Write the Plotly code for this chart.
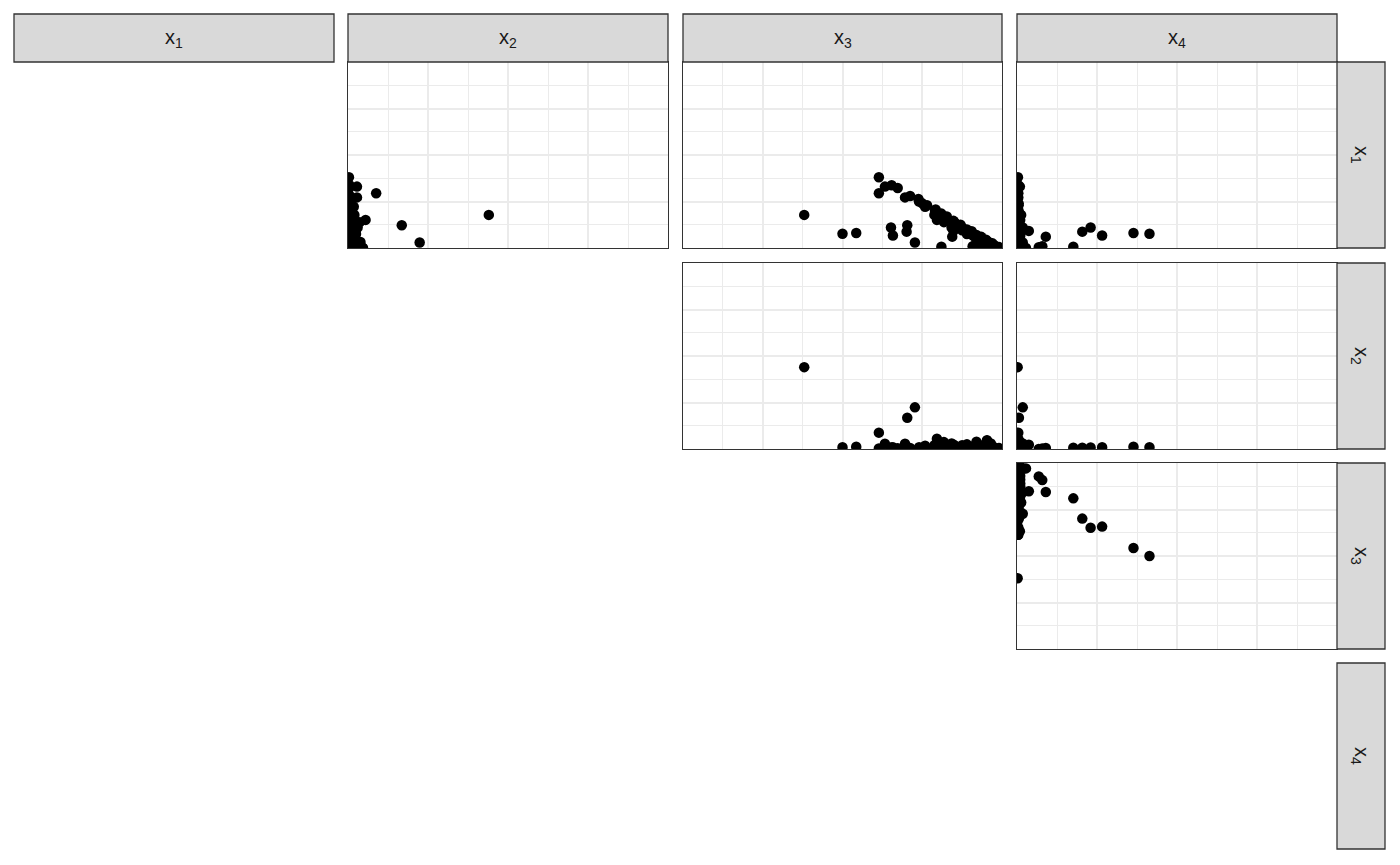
import plotly.graph_objects as go

x1 = [0.38, 0.33, 0.337, 0.323, 0.294, 0.272, 0.28, 0.263, 0.222, 0.207,
      0.178, 0.178, 0.151, 0.139, 0.17, 0.146, 0.122, 0.092, 0.061, 0.077,
      0.081, 0.067, 0.11, 0.088, 0.007, 0.01, 0.004, 0.0, 0.03, 0.11,
      0.032, 0.0,
      0.20, 0.19, 0.185, 0.16, 0.15, 0.14, 0.13, 0.125, 0.12, 0.11,
      0.10, 0.095, 0.09, 0.08, 0.075, 0.07, 0.065, 0.06, 0.055, 0.05,
      0.045, 0.04, 0.035, 0.03, 0.025, 0.02, 0.015, 0.01, 0.005, 0.0,
      0.0, 0.002, 0.005, 0.01, 0.0, 0.02, 0.03, 0.24, 0.25, 0.23]
x2 = [0.003, 0.028, 0.005, 0.004, 0.088, 0.028, 0.006, 0.0, 0.018, 0.0,
      0.44, 0.02, 0.055, 0.037, 0.0, 0.0, 0.168, 0.023, 0.005, 0.009,
      0.012, 0.009, 0.008, 0.007, 0.007, 0.003, 0.0, 0.001, 0.224, 0.03,
      0.039, 0.047,
      0.005, 0.01, 0.0, 0.01, 0.02, 0.005, 0.01, 0.0, 0.02, 0.01,
      0.005, 0.02, 0.0, 0.01, 0.025, 0.005, 0.015, 0.0, 0.02, 0.01,
      0.0, 0.02, 0.005, 0.01, 0.0, 0.02, 0.005, 0.01, 0.0, 0.005,
      0.0, 0.045, 0.03, 0.0, 0.01, 0.0, 0.0, 0.005, 0.01, 0.0]
x3 = [0.614, 0.633, 0.654, 0.673, 0.614, 0.696, 0.712, 0.738, 0.759, 0.792,
      0.38, 0.788, 0.796, 0.818, 0.827, 0.848, 0.703, 0.848, 0.844, 0.5,
      0.543, 0.658, 0.652, 0.701, 0.81, 0.908, 0.928, 0.971, 0.727, 0.842,
      0.92, 0.953,
      0.79, 0.795, 0.81, 0.825, 0.82, 0.85, 0.855, 0.87, 0.85, 0.875,
      0.89, 0.875, 0.905, 0.905, 0.89, 0.92, 0.91, 0.935, 0.92, 0.935,
      0.95, 0.93, 0.955, 0.955, 0.97, 0.955, 0.975, 0.975, 0.99, 0.99,
      1.0, 0.953, 0.965, 0.98, 0.97, 0.97, 0.96, 0.75, 0.74, 0.765]
x4 = [0.003, 0.009, 0.004, 0.0, 0.004, 0.004, 0.002, 0.0, 0.001, 0.001,
      0.002, 0.013, 0.004, 0.006, 0.003, 0.006, 0.006, 0.037, 0.090, 0.414,
      0.364, 0.266, 0.230, 0.204, 0.176, 0.079, 0.068, 0.028, 0.018, 0.018,
      0.009, 0.0,
      0.005, 0.005, 0.005, 0.005, 0.01, 0.005, 0.005, 0.005, 0.01, 0.005,
      0.005, 0.01, 0.005, 0.005, 0.01, 0.005, 0.01, 0.005, 0.005, 0.005,
      0.005, 0.01, 0.005, 0.005, 0.005, 0.005, 0.005, 0.005, 0.005, 0.005,
      0.0, 0.0, 0.0, 0.01, 0.02, 0.01, 0.01, 0.005, 0.0, 0.005]

variables = {"x1": x1, "x2": x2, "x3": x3, "x4": x4}
var_names = ["x1", "x2", "x3", "x4"]
strip_labels = ["x<sub>1</sub>", "x<sub>2</sub>", "x<sub>3</sub>", "x<sub>4</sub>"]

# page body adds an 8px margin; work in figure pixel coordinates
OFF = 8
W, H = 1384, 849
col_px = [(14, 334), (348, 668), (683, 1002), (1017, 1337)]
row_px = [(62, 248), (263, 449), (463, 649), (663, 849)]
top_strip = (14, 62)
right_strip = (1337, 1385)

def px_x(v):
    return (v - OFF) / W

def px_y(v):
    return 1 - (v - OFF) / H

# panels: (row index = y variable, col index = x variable), upper triangle only
panels = [(0, 1), (0, 2), (0, 3), (1, 2), (1, 3), (2, 3)]

fig = go.Figure()
layout_axes = {}
for k, (r, c) in enumerate(panels, start=1):
    xa = "x" if k == 1 else f"x{k}"
    ya = "y" if k == 1 else f"y{k}"
    fig.add_trace(go.Scatter(
        x=variables[var_names[c]], y=variables[var_names[r]],
        mode="markers", xaxis=xa, yaxis=ya, showlegend=False,
        marker=dict(color="black", size=10.5, line=dict(width=0)),
        cliponaxis=True, hoverinfo="x+y",
    ))
    l, rr = col_px[c]
    t, b = row_px[r]
    common = dict(
        range=[0, 1], showticklabels=False, ticks="", zeroline=False,
        showgrid=True, gridcolor="#EBEBEB", gridwidth=1.6,
        tickmode="linear", tick0=0, dtick=0.25,
        minor=dict(showgrid=True, gridcolor="#EBEBEB", gridwidth=0.9,
                   tickmode="linear", tick0=0, dtick=0.125),
        showline=True, linecolor="#333333", linewidth=1.3, mirror=True,
        fixedrange=True,
    )
    xname = "xaxis" if k == 1 else f"xaxis{k}"
    yname = "yaxis" if k == 1 else f"yaxis{k}"
    layout_axes[xname] = dict(domain=[px_x(l), px_x(rr)], anchor=ya, **common)
    layout_axes[yname] = dict(domain=[px_y(b), px_y(t)], anchor=xa, **common)

shapes = []
annotations = []
strip_font = dict(family="Liberation Sans, Arial, sans-serif", size=20, color="#1A1A1A")
for c, (l, rr) in enumerate(col_px):
    shapes.append(dict(type="rect", xref="paper", yref="paper",
                       x0=px_x(l), x1=px_x(rr), y0=px_y(top_strip[1]), y1=px_y(top_strip[0]),
                       fillcolor="#D9D9D9", line=dict(color="#333333", width=1.3)))
    annotations.append(dict(xref="paper", yref="paper", x=px_x((l + rr) / 2),
                            y=px_y((top_strip[0] + top_strip[1]) / 2),
                            text=strip_labels[c], showarrow=False, font=strip_font,
                            xanchor="center", yanchor="middle"))
for r, (t, b) in enumerate(row_px):
    shapes.append(dict(type="rect", xref="paper", yref="paper",
                       x0=px_x(right_strip[0]), x1=px_x(right_strip[1]), y0=px_y(b), y1=px_y(t),
                       fillcolor="#D9D9D9", line=dict(color="#333333", width=1.3)))
    annotations.append(dict(xref="paper", yref="paper",
                            x=px_x((right_strip[0] + right_strip[1]) / 2),
                            y=px_y((t + b) / 2),
                            text=strip_labels[r], showarrow=False, font=strip_font,
                            textangle=90, xanchor="center", yanchor="middle"))

fig.update_layout(
    width=W, height=H, margin=dict(l=0, r=0, t=0, b=0),
    paper_bgcolor="white", plot_bgcolor="white",
    shapes=shapes, annotations=annotations, showlegend=False,
    **layout_axes,
)
fig.write_html("out.html")
